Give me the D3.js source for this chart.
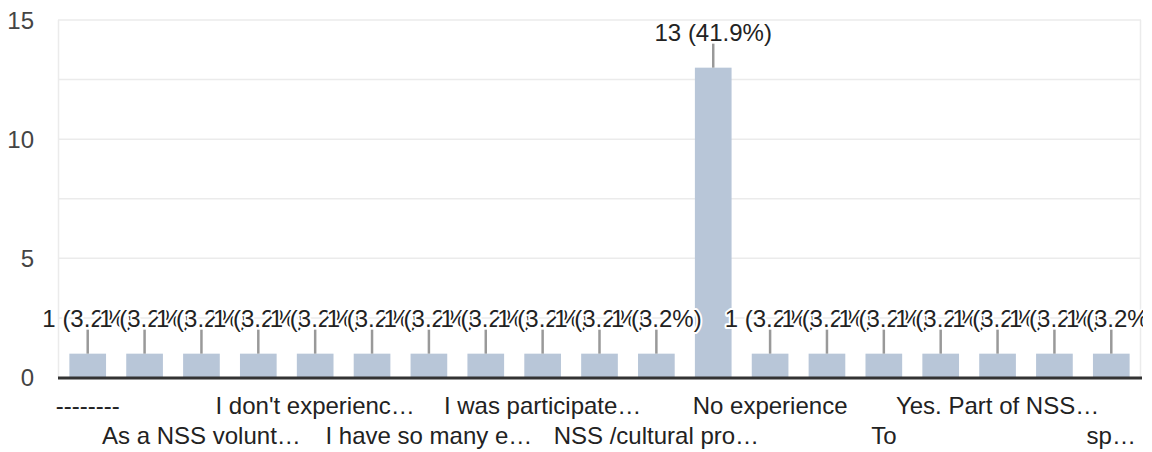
<!DOCTYPE html>
<html>
<head>
<meta charset="utf-8">
<script src="https://cdn.jsdelivr.net/npm/d3@7"></script>
<style>
  html, body { margin: 0; padding: 0; background: #fff; }
  svg { display: block; font-family: "Liberation Sans", Arial, sans-serif; }
</style>
</head>
<body>
<svg id="chart" width="1152" height="452"></svg>
<script>
// ---- data ----
// Only every other category label is displayed in the chart; hidden ones are left blank.
const categories = [
  "--------", "", "As a NSS volunt…", "", "I don't experienc…", "",
  "I have so many e…", "", "I was participate…", "", "NSS /cultural pro…", "",
  "No experience", "", "To", "", "Yes. Part of NSS…", "", "sp…"
];
const counts = [1, 1, 1, 1, 1, 1, 1, 1, 1, 1, 1, 13, 1, 1, 1, 1, 1, 1, 1];
const yTicks = [0, 5, 10, 15];
const yGrid = [0, 2.5, 5, 7.5, 10, 12.5, 15];

const total = d3.sum(counts);
const svg = d3.select("#chart");

const x = d3.scaleBand()
  .domain(d3.range(categories.length))
  .range([58, 1141])
  .paddingInner(0.355)
  .paddingOuter(0.2);

const y = d3.scaleLinear().domain([0, 15]).range([377.5, 20]);

// clip for annotations (cut at the right edge of the plot)
svg.append("defs").append("clipPath").attr("id", "annClip")
  .append("rect").attr("x", 0).attr("y", 0).attr("width", 1143).attr("height", 452);

// grid
svg.append("g").selectAll("line").data(yGrid.filter(d => d > 0)).join("line")
  .attr("x1", 58).attr("x2", 1141)
  .attr("y1", d => y(d)).attr("y2", d => y(d))
  .attr("stroke", "#ebebeb").attr("stroke-width", 1.5);
// left & right frame lines
svg.append("line").attr("x1", 58.5).attr("x2", 58.5).attr("y1", y(15)).attr("y2", y(0))
  .attr("stroke", "#ebebeb").attr("stroke-width", 1.5);
svg.append("line").attr("x1", 1140.5).attr("x2", 1140.5).attr("y1", y(15)).attr("y2", y(0))
  .attr("stroke", "#ebebeb").attr("stroke-width", 1.5);

// y axis labels
const yAxis = d3.axisLeft(y).tickValues(yTicks).tickSize(0).tickPadding(0).tickFormat(d3.format("d"));
const gy = svg.append("g").attr("transform", "translate(34,0)").call(yAxis);
gy.select(".domain").remove();
gy.selectAll("text").attr("font-size", 24).attr("fill", "#444")
  .attr("font-family", "Liberation Sans, Arial, sans-serif").attr("dy", "0.35em");

// bars
svg.append("g").selectAll("rect").data(counts).join("rect")
  .attr("x", (d, i) => x(i))
  .attr("width", x.bandwidth())
  .attr("y", d => y(d))
  .attr("height", d => y(0) - y(d))
  .attr("fill", "#b8c6d8");

// baseline
svg.append("line").attr("x1", 58).attr("x2", 1142).attr("y1", y(0) + 0.5).attr("y2", y(0) + 0.5)
  .attr("stroke", "#333").attr("stroke-width", 3);

// annotation stems
svg.append("g").selectAll("line").data(counts).join("line")
  .attr("x1", (d, i) => x(i) + x.bandwidth() / 2)
  .attr("x2", (d, i) => x(i) + x.bandwidth() / 2)
  .attr("y1", d => y(d) - 24)
  .attr("y2", d => y(d))
  .attr("stroke", "#999").attr("stroke-width", 2.5);

// annotation labels (drawn in order, each with a white halo)
const fmt = d => `${d} (${(d / total * 100).toFixed(1)}%)`;
const ann = svg.append("g").attr("clip-path", "url(#annClip)");
counts.forEach((d, i) => {
  ann.append("text")
    .attr("x", x(i) + x.bandwidth() / 2)
    .attr("y", y(d) - 27)
    .attr("text-anchor", "middle")
    .attr("font-size", 24)
    .attr("fill", "#222")
    .attr("stroke", "#fff").attr("stroke-width", 4)
    .attr("paint-order", "stroke")
    .attr("stroke-linejoin", "round")
    .text(fmt(d));
});

// x axis labels (alternating rows)
const xAxis = d3.axisBottom(x).tickSize(0).tickPadding(0).tickFormat(i => categories[i]);
const gx = svg.append("g").call(xAxis);
gx.select(".domain").remove();
gx.selectAll("text")
  .attr("font-size", 24).attr("fill", "#222")
  .attr("font-family", "Liberation Sans, Arial, sans-serif")
  .attr("dy", null)
  .attr("y", i => (i % 4 === 0) ? 414 : 444);
</script>
</body>
</html>
